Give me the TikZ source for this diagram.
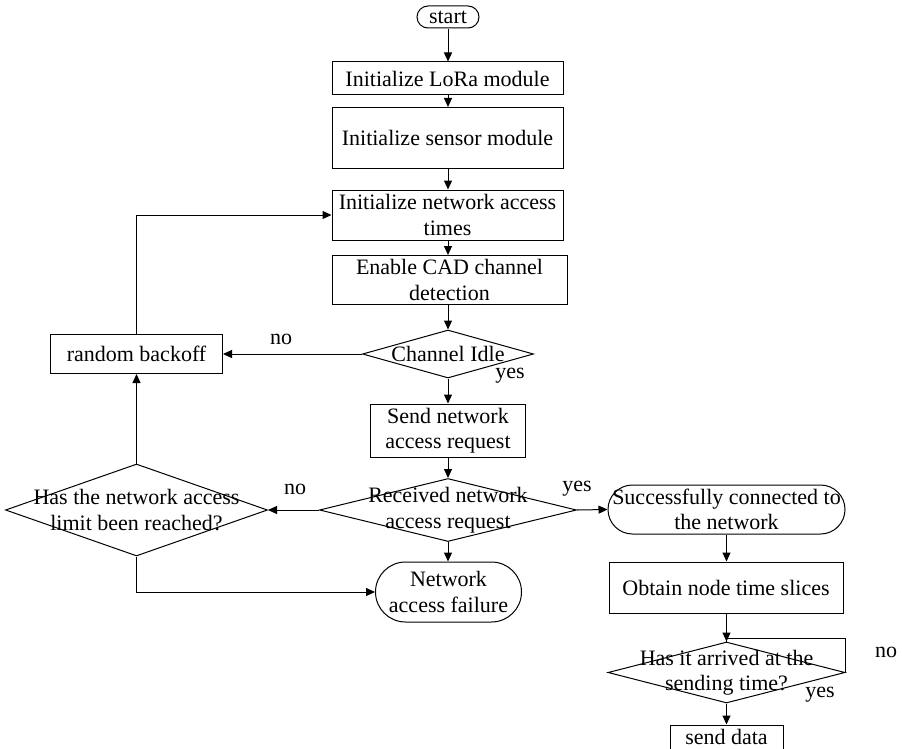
\documentclass[tikz,border=0pt]{standalone}
\usepackage{fontspec}
\setmainfont{Liberation Serif}
\usetikzlibrary{arrows.meta,shapes.geometric,shapes.misc}
\begin{document}
\begin{tikzpicture}[x=1pt,y=-1pt,
  every node/.style={font=\fontsize{22}{25.5}\selectfont},
  box/.style={draw, line width=1pt, inner sep=0pt, align=center},
  dia/.style={draw, line width=1pt, diamond, inner sep=0pt, aspect=1},
  stad/.style={draw, line width=1pt, rounded rectangle, inner sep=0pt},
  arr/.style={line width=1pt, -{Triangle[length=9pt,width=8pt]}},
  ln/.style={line width=1pt},
  lbl/.style={inner sep=0pt}
]
\useasboundingbox (0,0) rectangle (902,749);

\node[stad, minimum width=62pt, minimum height=22pt, label={center:start}] (start) at (448,17) {};
\node[box, minimum width=231pt, minimum height=33pt] (lora) at (447.5,78.5) {Initialize LoRa module};
\node[box, minimum width=231pt, minimum height=61pt] (sensor) at (447.5,138) {Initialize sensor module};
\node[box, minimum width=231pt, minimum height=50pt] (init) at (447.5,215) {Initialize network access\\times};
\node[box, minimum width=235pt, minimum height=49pt] (cad) at (449.5,280) {Enable CAD channel\\detection};
\node[dia, minimum width=171pt, minimum height=48pt, label={center:Channel Idle}] (idle) at (448,354) {};
\node[box, minimum width=172pt, minimum height=39pt] (rb) at (136.5,354) {random backoff};
\node[box, minimum width=155pt, minimum height=53pt] (send) at (448,430.5) {Send network\\access request};
\node[dia, minimum width=257pt, minimum height=63pt, label={[align=center]center:Received network\\access request}] (recv) at (448,510) {};
\node[dia, minimum width=262pt, minimum height=92pt, label={[align=center]center:Has the network access\\limit been reached?}] (lim) at (136.5,510) {};
\node[stad, minimum width=146pt, minimum height=60pt, label={[align=center]center:Network\\access failure}] (fail) at (448.5,592) {};
\node[stad, minimum width=237pt, minimum height=49pt, label={[align=center]center:Successfully connected to\\the network}] (succ) at (726.5,509.5) {};
\node[box, minimum width=234pt, minimum height=51pt] (obt) at (726,587.5) {Obtain node time slices};
\node[dia, minimum width=237pt, minimum height=61pt, label={[align=center]center:Has it arrived at the\\sending time?}] (arr) at (726.5,672.5) {};
\node[box, minimum width=113pt, minimum height=24pt] (sd) at (726.5,737) {send data};

\draw[arr] (start) -- (start |- lora.north);
\draw[arr] (lora.south -| start) -- (start |- sensor.north);
\draw[arr] (sensor.south -| start) -- (start |- init.north);
\draw[arr] (init.south -| start) -- (start |- cad.north);
\draw[arr] (cad.south -| idle.north) -- (idle.north);
\draw[arr] (idle) -- (send);
\draw[arr] (idle.west) -- (rb.east);
\draw[arr] (rb.north) |- (init.west);
\draw[arr] (send) -- (recv);
\draw[arr] (recv.west) -- (lim.east);
\draw[arr] (recv.east) -- (succ.west);
\draw[arr] (recv.south) -- (recv.south |- fail.north);
\draw[arr] (lim.north) -- (rb.south);
\draw[arr] (lim.south) |- (fail.west);
\draw[arr] (succ.south) -- (succ.south |- obt.north);
\draw[arr] (obt.south -| arr.north) -- (arr.north);
\draw[ln] (arr.east) -- ++(0,-34) -| (arr.north);
\draw[arr] (arr) -- (sd);

\node[lbl] at (281,339) {no};
\node[lbl] at (510,376) {yes};
\node[lbl] at (295,489) {no};
\node[lbl] at (577,489) {yes};
\node[lbl] at (886,652) {no};
\node[lbl] at (820,695) {yes};
\end{tikzpicture}
\end{document}
